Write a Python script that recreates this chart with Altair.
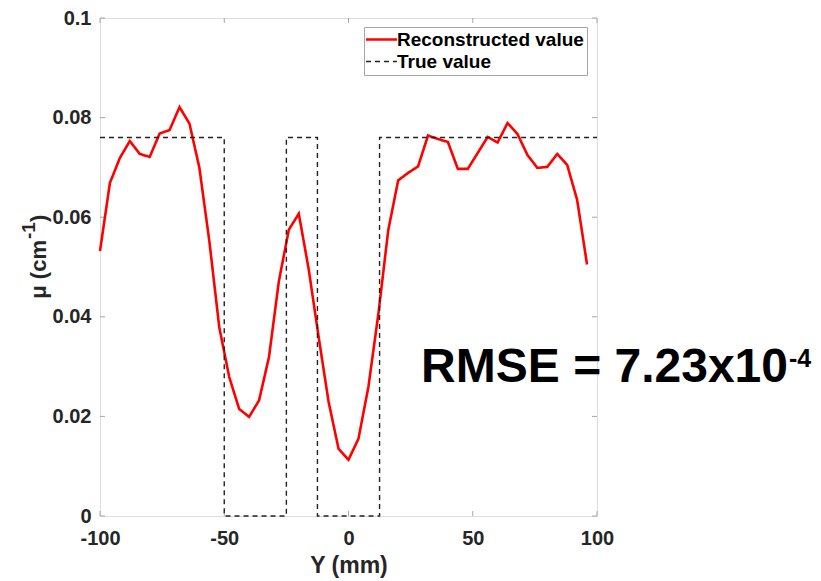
import altair as alt
import pandas as pd

# Reconstructed profile (Y in mm, mu in cm^-1)
rec_x = [-100, -96, -92, -88, -84, -80, -76, -72, -68, -64, -60, -56, -52, -48, -44,
         -40, -36, -32, -28, -24, -20, -16, -12, -8, -4, 0, 4, 8, 12, 16, 20, 24, 28,
         32, 36, 40, 44, 48, 52, 56, 60, 64, 68, 72, 76, 80, 84, 88, 92, 96]
rec_y = [0.0532, 0.0669, 0.0719, 0.0753, 0.0727, 0.0721, 0.0768, 0.0775, 0.0821, 0.0788,
         0.0699, 0.0552, 0.0379, 0.0279, 0.0215, 0.0199, 0.0232, 0.0319, 0.0472, 0.0575,
         0.0607, 0.0495, 0.0359, 0.0229, 0.0135, 0.0113, 0.0155, 0.0259, 0.0405, 0.0574,
         0.0674, 0.0689, 0.0702, 0.0764, 0.0757, 0.0751, 0.0697, 0.0697, 0.0729, 0.0761,
         0.0750, 0.0789, 0.0767, 0.0725, 0.0699, 0.0701, 0.0727, 0.0705, 0.0635, 0.0505]

# True profile (step function)
true_x = [-100, -50, -50, -25, -25, -12.5, -12.5, 12.5, 12.5, 100]
true_y = [0.076, 0.076, 0, 0, 0.076, 0.076, 0, 0, 0.076, 0.076]

series_names = ["Reconstructed value", "True value"]
x_ticks = [-100, -50, 0, 50, 100]
y_ticks = [0, 0.02, 0.04, 0.06, 0.08, 0.1]

rec_df = pd.DataFrame({"x": rec_x, "y": rec_y, "series": series_names[0],
                       "i": range(len(rec_x))})
true_df = pd.DataFrame({"x": true_x, "y": true_y, "series": series_names[1],
                        "i": range(len(true_x))})

W, H = 497, 498
FONT = "Liberation Sans"
TXT = "#262626"
FRAME = "#a6a6a6"

xscale = alt.Scale(domain=[-100, 100], nice=False, zero=False)
yscale = alt.Scale(domain=[0, 0.1], nice=False)

color = alt.Color("series:N", scale=alt.Scale(domain=series_names, range=["#ff0000", "#222222"]),
                  title=None,
                  legend=alt.Legend(orient="none", legendX=264, legendY=9,
                                    symbolType="M-2,0H2", symbolSize=240,
                                    labelFont=FONT, labelFontSize=19,
                                    labelFontWeight="bold", labelColor="#000000",
                                    strokeColor=FRAME, fillColor="white", padding=3,
                                    rowPadding=2, labelOffset=6, labelLimit=300,
                                    symbolOffset=5))
dash = alt.StrokeDash("series:N", scale=alt.Scale(domain=series_names, range=[[1, 0], [5, 4]]),
                      title=None, legend=None)
sw = alt.StrokeWidth("series:N", scale=alt.Scale(domain=series_names, range=[2.6, 1.4]),
                     title=None, legend=None)

xenc = alt.X("x:Q", scale=xscale,
             axis=alt.Axis(values=x_ticks, labelExpr="'' + datum.value", grid=False,
                           ticks=False, domain=False, labelFlush=False, labelFont=FONT,
                           labelFontSize=20, labelFontWeight="bold", labelColor=TXT,
                           labelPadding=12, title="Y (mm)", titleFont=FONT, titleFontSize=23,
                           titleFontWeight="bold", titleColor=TXT, titlePadding=6))
yenc = alt.Y("y:Q", scale=yscale,
             axis=alt.Axis(values=y_ticks, labelExpr="'' + datum.value", grid=False,
                           ticks=False, domain=False, labelFlush=False, labelFont=FONT,
                           labelFontSize=20, labelFontWeight="bold", labelColor=TXT,
                           labelPadding=9, title=None))

rec_line = alt.Chart(rec_df).mark_line().encode(
    x=xenc, y=yenc, color=color, strokeDash=dash, strokeWidth=sw, order="i:Q")
true_line = alt.Chart(true_df).mark_line().encode(
    x=alt.X("x:Q", scale=xscale), y=alt.Y("y:Q", scale=yscale),
    color=color, strokeDash=dash, strokeWidth=sw, order="i:Q")

xt_df = pd.DataFrame({"t": x_ticks})
yt_df = pd.DataFrame({"t": y_ticks})
tick_style = dict(color=FRAME, strokeWidth=1)
ticks_bottom = alt.Chart(xt_df).mark_rule(**tick_style).encode(
    x=alt.X("t:Q", scale=xscale), y=alt.value(H), y2=alt.value(H - 5))
ticks_top = alt.Chart(xt_df).mark_rule(**tick_style).encode(
    x=alt.X("t:Q", scale=xscale), y=alt.value(0), y2=alt.value(5))
ticks_left = alt.Chart(yt_df).mark_rule(**tick_style).encode(
    y=alt.Y("t:Q", scale=yscale), x=alt.value(0), x2=alt.value(5))
ticks_right = alt.Chart(yt_df).mark_rule(**tick_style).encode(
    y=alt.Y("t:Q", scale=yscale), x=alt.value(W), x2=alt.value(W - 5))

# y-axis title built from pieces so the exponent can be a real superscript
yt_main = pd.DataFrame({"t": ["μ (cm"]})
yt_sup = pd.DataFrame({"t": ["-1"]})
yt_close = pd.DataFrame({"t": [")"]})
ytitle_main = alt.Chart(yt_main).mark_text(
    angle=270, align="right", baseline="middle", font=FONT, fontSize=22,
    fontWeight="bold", color=TXT).encode(text="t:N", x=alt.value(-61), y=alt.value(222))
ytitle_sup = alt.Chart(yt_sup).mark_text(
    angle=270, align="left", baseline="middle", font=FONT, fontSize=19,
    fontWeight="bold", color=TXT).encode(text="t:N", x=alt.value(-71), y=alt.value(221))
ytitle_close = alt.Chart(yt_close).mark_text(
    angle=270, align="left", baseline="middle", font=FONT, fontSize=22,
    fontWeight="bold", color=TXT).encode(text="t:N", x=alt.value(-61), y=alt.value(204))

ann_df = pd.DataFrame({"main": ["RMSE = 7.23x10"], "sup": ["-4"]})
ann_main = alt.Chart(ann_df).mark_text(
    align="right", baseline="alphabetic", font=FONT, fontSize=48, fontWeight="bold",
    color="#000000").encode(text="main:N", x=alt.value(688), y=alt.value(364))
ann_sup = alt.Chart(ann_df).mark_text(
    align="left", baseline="alphabetic", font=FONT, fontSize=25, fontWeight="bold",
    color="#000000").encode(text="sup:N", x=alt.value(689), y=alt.value(349))

chart = alt.layer(
    ticks_bottom, ticks_top, ticks_left, ticks_right, rec_line, true_line,
    ytitle_main, ytitle_sup, ytitle_close, ann_main, ann_sup
).properties(
    width=W, height=H,
    autosize=alt.AutoSizeParams(type="none"),
    padding={"left": 92, "top": 10, "right": 216, "bottom": 63},
).configure_view(stroke=FRAME, strokeWidth=1).configure(background="white")

chart.save("out.html", embed_options={"renderer": "svg", "actions": False})
